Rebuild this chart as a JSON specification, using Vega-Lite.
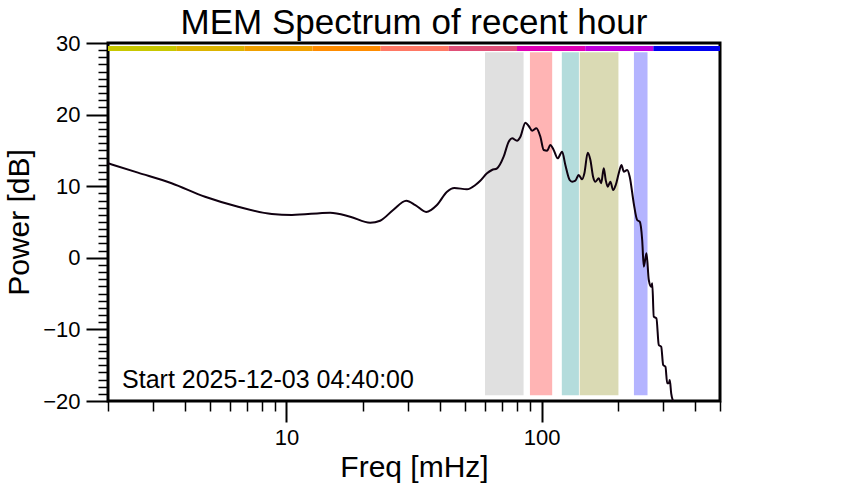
{
  "$schema": "https://vega.github.io/schema/vega-lite/v6.json",
  "width": 612,
  "height": 358,
  "autosize": {"type": "none"},
  "padding": {"left": 108, "top": 43, "right": 122, "bottom": 99},
  "background": "white",
  "title": {"text": "MEM Spectrum of recent hour", "fontSize": 35, "font": "Liberation Sans", "fontWeight": "normal", "color": "black", "anchor": "middle", "frame": "group", "offset": -9},
  "config": {
    "view": {"stroke": "black", "strokeWidth": 3},
    "axis": {"grid": false, "domain": false, "labelFont": "Liberation Sans", "labelFontSize": 22, "labelColor": "black", "tickColor": "black", "titleFont": "Liberation Sans", "titleFontWeight": "normal", "titleColor": "black", "titleFontSize": 30}
  },
  "datasets": {
    "bands": [
      {"band": "b1", "f1": 60, "f2": 85},
      {"band": "b2", "f1": 90, "f2": 110},
      {"band": "b3", "f1": 120, "f2": 140},
      {"band": "b4", "f1": 141, "f2": 200},
      {"band": "b5", "f1": 230, "f2": 260}
    ],
    "rainbow": [
      {"seg": "s1", "f1": 2, "f2": 3.70},
      {"seg": "s2", "f1": 3.70, "f2": 6.84},
      {"seg": "s3", "f1": 6.84, "f2": 12.65},
      {"seg": "s4", "f1": 12.65, "f2": 23.4},
      {"seg": "s5", "f1": 23.4, "f2": 43.3},
      {"seg": "s6", "f1": 43.3, "f2": 80.1},
      {"seg": "s7", "f1": 80.1, "f2": 148.2},
      {"seg": "s8", "f1": 148.2, "f2": 274},
      {"seg": "s9", "f1": 274, "f2": 500}
    ],
    "spec": [
      {"f": 2.0, "db": 13.2}, {"f": 2.62, "db": 11.89}, {"f": 3.55, "db": 10.41}, {"f": 4.80, "db": 8.53},
      {"f": 6.47, "db": 7.14}, {"f": 8.77, "db": 6.12}, {"f": 10.51, "db": 5.98}, {"f": 14.84, "db": 6.30},
      {"f": 17.78, "db": 5.74}, {"f": 21.3, "db": 4.90}, {"f": 23.3, "db": 5.18}, {"f": 26.2, "db": 6.68},
      {"f": 29.5, "db": 7.97}, {"f": 32.0, "db": 7.37}, {"f": 35.3, "db": 6.40}, {"f": 38.9, "db": 7.37},
      {"f": 42.6, "db": 9.23}, {"f": 45.5, "db": 9.75}, {"f": 51.0, "db": 9.57}, {"f": 55.0, "db": 10.17},
      {"f": 57.5, "db": 10.77}, {"f": 61.1, "db": 11.80}, {"f": 63.9, "db": 12.26}, {"f": 66.9, "db": 12.50},
      {"f": 71.0, "db": 14.12}, {"f": 74.3, "db": 16.22}, {"f": 76.6, "db": 16.69}, {"f": 80.1, "db": 16.35},
      {"f": 82.6, "db": 16.91}, {"f": 86.4, "db": 18.87}, {"f": 89.0, "db": 18.41}, {"f": 91.8, "db": 17.75},
      {"f": 95.4, "db": 18.09}, {"f": 98.9, "db": 16.91}, {"f": 101.9, "db": 15.06}, {"f": 105.1, "db": 14.96},
      {"f": 108.2, "db": 15.75}, {"f": 111.5, "db": 15.06}, {"f": 115.6, "db": 13.90}, {"f": 120.3, "db": 14.82},
      {"f": 123.9, "db": 12.96}, {"f": 128.8, "db": 10.87}, {"f": 131.7, "db": 10.63}, {"f": 135.6, "db": 10.77},
      {"f": 139.7, "db": 11.56}, {"f": 144.1, "db": 10.96}, {"f": 147.1, "db": 11.80}, {"f": 151.6, "db": 14.68},
      {"f": 155.3, "db": 13.66}, {"f": 159.1, "db": 11.33}, {"f": 162.5, "db": 10.63}, {"f": 167.4, "db": 11.10},
      {"f": 171.1, "db": 10.41}, {"f": 175.2, "db": 12.50}, {"f": 178.3, "db": 10.87}, {"f": 181.6, "db": 9.93},
      {"f": 186.0, "db": 10.63}, {"f": 190.6, "db": 9.47}, {"f": 195.2, "db": 10.17}, {"f": 200.6, "db": 11.80},
      {"f": 205.5, "db": 12.96}, {"f": 209.8, "db": 12.03}, {"f": 216.4, "db": 12.26}, {"f": 221.4, "db": 11.33},
      {"f": 229.6, "db": 7.61}, {"f": 236.8, "db": 5.28}, {"f": 242.4, "db": 5.04}, {"f": 247.8, "db": 2.49},
      {"f": 251.4, "db": -1.24}, {"f": 257.6, "db": 0.63}, {"f": 263.0, "db": -3.10}, {"f": 268.8, "db": -4.04},
      {"f": 271.3, "db": -3.56}, {"f": 275.1, "db": -8.23}, {"f": 281.8, "db": -8.45}, {"f": 287.8, "db": -12.18},
      {"f": 294.2, "db": -12.42}, {"f": 299.5, "db": -14.97}, {"f": 305.7, "db": -15.21}, {"f": 310.5, "db": -17.53},
      {"f": 315.0, "db": -17.53}, {"f": 317.8, "db": -17.07}, {"f": 321.9, "db": -18.92}, {"f": 327.8, "db": -20.1},
      {"f": 332.0, "db": -20.8}
    ]
  },
  "resolve": {"axis": {"x": "independent", "y": "independent"}, "scale": {"color": "independent"}},
  "layer": [
    {
      "data": {"name": "bands"},
      "mark": {"type": "rect"},
      "encoding": {
        "x": {"field": "f1", "type": "quantitative", "scale": {"type": "log", "domain": [2, 500], "nice": false},
              "axis": {"orient": "bottom", "values": [10, 100], "format": "d", "tickSize": 21, "tickWidth": 2, "labelPadding": 5, "title": "Freq [mHz]", "titlePadding": 4}},
        "x2": {"field": "f2"},
        "y": {"datum": -19.2, "type": "quantitative", "scale": {"domain": [-20, 30], "nice": false, "zero": false},
              "axis": {"orient": "left", "values": [-20, -10, 0, 10, 20, 30], "tickSize": 22, "tickWidth": 2, "labelPadding": 6, "title": "Power [dB]", "titlePadding": 8}},
        "y2": {"datum": 28.7},
        "color": {"field": "band", "type": "nominal", "legend": null,
                  "scale": {"domain": ["b1", "b2", "b3", "b4", "b5"], "range": ["#e0e0e0", "#ffb4b4", "#b4dcdc", "#dadab4", "#b4b4ff"]}}
      }
    },
    {
      "data": {"name": "rainbow"},
      "mark": {"type": "rect"},
      "encoding": {
        "x": {"field": "f1", "type": "quantitative",
              "axis": {"orient": "bottom", "values": [2, 3, 4, 5, 6, 7, 8, 9, 20, 30, 40, 50, 60, 70, 80, 90, 200, 300, 400, 500], "labels": false, "tickSize": 10, "tickWidth": 1.5, "title": null}},
        "x2": {"field": "f2"},
        "y": {"datum": 28.88, "type": "quantitative",
              "axis": {"orient": "left", "values": [-19, -18, -17, -16, -15, -14, -13, -12, -11, -9, -8, -7, -6, -5, -4, -3, -2, -1, 1, 2, 3, 4, 5, 6, 7, 8, 9, 11, 12, 13, 14, 15, 16, 17, 18, 19, 21, 22, 23, 24, 25, 26, 27, 28, 29], "labels": false, "tickSize": 10, "tickWidth": 1.5, "title": null}},
        "y2": {"datum": 29.58},
        "color": {"field": "seg", "type": "nominal", "legend": null,
                  "scale": {"domain": ["s1", "s2", "s3", "s4", "s5", "s6", "s7", "s8", "s9"], "range": ["#c8c800", "#dcb400", "#f0a000", "#ff8c00", "#ff7864", "#e05078", "#e000b4", "#c000dc", "#0000f0"]}}
      }
    },
    {
      "data": {"name": "spec"},
      "mark": {"type": "line", "color": "#100010", "strokeWidth": 2, "clip": true, "interpolate": "monotone"},
      "encoding": {
        "x": {"field": "f", "type": "quantitative", "axis": null},
        "y": {"field": "db", "type": "quantitative", "axis": null}
      }
    },
    {
      "data": {"values": [{"label": "Start 2025-12-03 04:40:00"}]},
      "mark": {"type": "text", "align": "left", "baseline": "alphabetic", "font": "Liberation Sans", "fontSize": 25, "color": "black"},
      "encoding": {
        "x": {"datum": 2.27, "type": "quantitative", "axis": null},
        "y": {"datum": -18.2, "type": "quantitative", "axis": null},
        "text": {"field": "label"}
      }
    }
  ]
}
